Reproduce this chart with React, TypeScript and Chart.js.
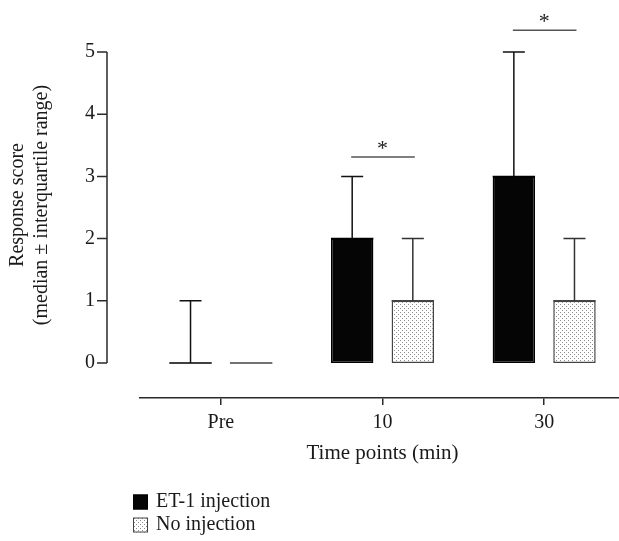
import React, { useEffect, useRef } from 'react';
import { Chart, registerables } from 'chart.js';

Chart.register(...registerables);

const categories = ['Pre', '10', '30'];
const seriesNames = ['ET-1 injection', 'No injection'];
const et1Median = [0, 2, 3];
const et1Upper = [1, 3, 5];
const noInjMedian = [0, 1, 1];
const noInjUpper = [0, 2, 2];
const yTicks = [0, 1, 2, 3, 4, 5];
const sigCategories = ['10', '30'];
const sigLineValues = [3.31, 5.35];
const sigLabels = ['*', '*'];
const xTitle = 'Time points (min)';
const yTitle = ['Response score', '(median \u00b1 interquartile range)'];

const FONT_FAMILY = '"Liberation Serif", "Times New Roman", serif';
const TEXT_COLOR = '#1a1a1a';
const AXIS_COLOR = '#2a2a2a';

function makeDotPattern(): CanvasPattern | string {
  const c = document.createElement('canvas');
  c.width = 4;
  c.height = 4;
  const p = c.getContext('2d');
  if (!p) return '#e0e0e0';
  p.fillStyle = '#ffffff';
  p.fillRect(0, 0, 4, 4);
  p.fillStyle = '#8c8c8c';
  p.fillRect(0, 0, 1, 1);
  p.fillRect(2, 2, 1, 1);
  const pat = p.createPattern(c, 'repeat');
  return pat || '#e0e0e0';
}

const uppers = [et1Upper, noInjUpper];
const edgeColors = ['#000000', '#444444'];

const decorPlugin = {
  id: 'decor',
  afterDatasetsDraw(chart: any) {
    const { ctx, scales } = chart;
    const y = scales.y;
    ctx.save();
    // bar top lines (also shows zero-height bars) and upper error bars
    chart.data.datasets.forEach((ds: any, di: number) => {
      const meta = chart.getDatasetMeta(di);
      meta.data.forEach((bar: any, i: number) => {
        const half = bar.width / 2;
        ctx.strokeStyle = edgeColors[di];
        ctx.lineWidth = 1.5;
        ctx.beginPath();
        ctx.moveTo(bar.x - half, bar.y);
        ctx.lineTo(bar.x + half, bar.y);
        ctx.stroke();
        const up = uppers[di][i];
        if (up > ds.data[i]) {
          const yu = y.getPixelForValue(up);
          ctx.strokeStyle = di === 0 ? '#111111' : '#333333';
          ctx.beginPath();
          ctx.moveTo(bar.x, bar.y);
          ctx.lineTo(bar.x, yu);
          ctx.moveTo(bar.x - 11, yu);
          ctx.lineTo(bar.x + 11, yu);
          ctx.stroke();
        }
      });
    });
    // significance brackets
    const m0 = chart.getDatasetMeta(0);
    const m1 = chart.getDatasetMeta(1);
    sigCategories.forEach((cat, k) => {
      const ci = categories.indexOf(cat);
      const x1 = m0.data[ci].x;
      const x2 = m1.data[ci].x;
      const yy = y.getPixelForValue(sigLineValues[k]);
      ctx.strokeStyle = '#555555';
      ctx.lineWidth = 1.5;
      ctx.beginPath();
      ctx.moveTo(x1 - 1, yy);
      ctx.lineTo(x2 + 2, yy);
      ctx.stroke();
      ctx.fillStyle = '#222222';
      ctx.font = '22px ' + FONT_FAMILY;
      ctx.textAlign = 'center';
      ctx.textBaseline = 'alphabetic';
      ctx.fillText(sigLabels[k], (x1 + x2) / 2, yy - 2);
    });
    ctx.restore();
  },
  afterDraw(chart: any) {
    const { ctx, chartArea, scales } = chart;
    const y = scales.y;
    ctx.save();
    // offset y axis line with outward ticks
    const ax = chartArea.left - 33;
    const yTop = y.getPixelForValue(yTicks[yTicks.length - 1]);
    const yBot = y.getPixelForValue(yTicks[0]);
    ctx.strokeStyle = AXIS_COLOR;
    ctx.lineWidth = 1.5;
    ctx.beginPath();
    ctx.moveTo(ax, yTop);
    ctx.lineTo(ax, yBot);
    yTicks.forEach((v) => {
      const py = y.getPixelForValue(v);
      ctx.moveTo(ax - 10, py);
      ctx.lineTo(ax, py);
    });
    ctx.stroke();
    // legend (vertical, lower left)
    const lx = chartArea.left - 7;
    const rows = [chartArea.bottom + 104, chartArea.bottom + 127];
    chart.data.datasets.forEach((ds: any, di: number) => {
      const cy = rows[di];
      ctx.fillStyle = ds.backgroundColor;
      ctx.fillRect(lx, cy - 7.5, 15, 15);
      ctx.strokeStyle = ds.borderColor;
      ctx.lineWidth = 1;
      ctx.strokeRect(lx + 0.5, cy - 7, 14, 14);
      ctx.fillStyle = TEXT_COLOR;
      ctx.font = '20px ' + FONT_FAMILY;
      ctx.textAlign = 'left';
      ctx.textBaseline = 'middle';
      ctx.fillText(seriesNames[di], lx + 23, cy);
    });
    ctx.restore();
  },
};

export default function App() {
  const ref = useRef<HTMLCanvasElement | null>(null);
  useEffect(() => {
    const canvas = ref.current;
    if (!canvas) return;
    const pattern = makeDotPattern();
    const chart = new Chart(canvas, {
      type: 'bar',
      data: {
        labels: categories,
        datasets: [
          {
            label: seriesNames[0],
            data: et1Median,
            backgroundColor: '#050505',
            borderColor: '#000000',
            borderWidth: 1.5,
            borderSkipped: false,
            categoryPercentage: 0.75,
            barPercentage: 0.7,
          },
          {
            label: seriesNames[1],
            data: noInjMedian,
            backgroundColor: pattern as any,
            borderColor: '#444444',
            borderWidth: 1.5,
            borderSkipped: false,
            categoryPercentage: 0.75,
            barPercentage: 0.7,
          },
        ],
      },
      options: {
        animation: false,
        responsive: false,
        devicePixelRatio: 1,
        layout: { padding: { top: 8, bottom: 71, left: 0, right: 0 } },
        plugins: {
          legend: { display: false },
          tooltip: { enabled: false },
        },
        scales: {
          x: {
            type: 'category',
            offset: true,
            grid: {
              display: true,
              drawOnChartArea: false,
              drawTicks: true,
              tickLength: 7,
              offset: false,
              color: AXIS_COLOR,
              lineWidth: 1.5,
            },
            border: { display: true, color: AXIS_COLOR, width: 1.5 },
            ticks: {
              color: TEXT_COLOR,
              font: { family: FONT_FAMILY, size: 20 },
              padding: 6,
              maxRotation: 0,
            },
            title: {
              display: true,
              text: xTitle,
              color: TEXT_COLOR,
              font: { family: FONT_FAMILY, size: 21 },
              padding: { top: 4, bottom: 4 },
            },
            afterFit: (s: any) => {
              s.height = 72;
            },
          },
          y: {
            type: 'linear',
            min: -0.563,
            max: 5.643,
            grid: { display: false, drawTicks: true, tickLength: 45 },
            border: { display: false },
            afterBuildTicks: (s: any) => {
              s.ticks = yTicks.map((v) => ({ value: v }));
            },
            ticks: {
              color: TEXT_COLOR,
              font: { family: FONT_FAMILY, size: 20 },
              padding: 0,
            },
            title: {
              display: true,
              text: yTitle,
              color: TEXT_COLOR,
              font: { family: FONT_FAMILY, size: 20 },
              padding: { top: 6, bottom: 0 },
            },
            afterFit: (s: any) => {
              s.width = 140;
            },
          },
        },
      },
      plugins: [decorPlugin],
    });
    return () => chart.destroy();
  }, []);
  return (
    <div
      style={{
        position: 'fixed',
        left: 0,
        top: 0,
        width: 619,
        height: 541,
        overflow: 'hidden',
        background: '#ffffff',
      }}
    >
      <canvas ref={ref} width={625} height={541} style={{ display: 'block' }} />
    </div>
  );
}
